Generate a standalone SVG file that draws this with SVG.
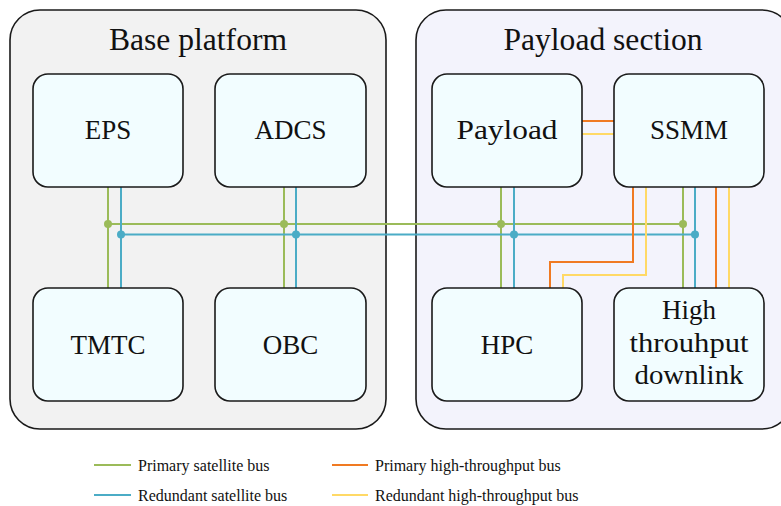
<svg xmlns="http://www.w3.org/2000/svg" width="781" height="506" viewBox="0 0 781 506">
  <style>
    .container { stroke: #1a1a1a; stroke-width: 1.6; }
    .node rect { fill: #F2FDFF; stroke: #1a1a1a; stroke-width: 1.6; }
    .title { font-family: "Liberation Serif", "DejaVu Serif", serif; font-size: 31px; fill: #111; text-anchor: middle; }
    .label { font-family: "Liberation Serif", "DejaVu Serif", serif; font-size: 27px; fill: #111; text-anchor: middle; }
    .legend { font-family: "Liberation Serif", "DejaVu Serif", serif; font-size: 16px; fill: #111; }
    .bus { fill: none; stroke-width: 2; }
    .green { stroke: #9BBB59; }
    .blue { stroke: #4BACC6; }
    .orange { stroke: #F07A22; }
    .yellow { stroke: #FFD966; }
    .dot-green { fill: #9BBB59; }
    .dot-blue { fill: #4BACC6; }
  </style>

  <!-- Section containers -->
  <g id="base-platform">
    <rect class="container" x="10" y="10" width="376" height="419" rx="30" ry="30" fill="#F2F2F2"/>
    <text class="title" x="198" y="50" textLength="178" lengthAdjust="spacingAndGlyphs">Base platform</text>
  </g>
  <g id="payload-section">
    <rect class="container" x="416" y="10" width="376" height="419" rx="30" ry="30" fill="#F3F3FC"/>
    <text class="title" x="603" y="50" textLength="199" lengthAdjust="spacingAndGlyphs">Payload section</text>
  </g>

  <!-- Bus connectors -->
  <g id="connectors">
    <!-- Primary satellite bus -->
    <path class="bus green" d="M108 187V288 M284 187V288 M501 187V288 M683 187V288 M108 224H683"/>
    <!-- Redundant satellite bus -->
    <path class="bus blue" d="M121 187V288 M296 187V288 M514 187V288 M695 187V288 M121 234.5H695"/>
    <!-- Primary high-throughput bus -->
    <path class="bus orange" d="M582 121H614 M633 187V262H550V288 M716 187V288"/>
    <!-- Redundant high-throughput bus -->
    <path class="bus yellow" d="M582 134H614 M646 187V275H563V288 M729 187V288"/>
    <!-- Junctions -->
    <circle class="dot-green" cx="108" cy="224" r="4"/>
    <circle class="dot-green" cx="284" cy="224" r="4"/>
    <circle class="dot-green" cx="501" cy="224" r="4"/>
    <circle class="dot-green" cx="683" cy="224" r="4"/>
    <circle class="dot-blue" cx="121" cy="234.5" r="4"/>
    <circle class="dot-blue" cx="296" cy="234.5" r="4"/>
    <circle class="dot-blue" cx="514" cy="234.5" r="4"/>
    <circle class="dot-blue" cx="695" cy="234.5" r="4"/>
  </g>

  <!-- Subsystem nodes -->
  <g id="eps" class="node">
    <rect x="33" y="74" width="150" height="113" rx="15" ry="15"/>
    <text class="label" x="108" y="139">EPS</text>
  </g>
  <g id="adcs" class="node">
    <rect x="215" y="74" width="151" height="113" rx="15" ry="15"/>
    <text class="label" x="290.5" y="139">ADCS</text>
  </g>
  <g id="tmtc" class="node">
    <rect x="33" y="288" width="150" height="113" rx="15" ry="15"/>
    <text class="label" x="108" y="354">TMTC</text>
  </g>
  <g id="obc" class="node">
    <rect x="215" y="288" width="151" height="113" rx="15" ry="15"/>
    <text class="label" x="290.5" y="354">OBC</text>
  </g>
  <g id="payload" class="node">
    <rect x="432" y="74" width="150" height="113" rx="15" ry="15"/>
    <text class="label" x="507" y="139" textLength="101" lengthAdjust="spacingAndGlyphs">Payload</text>
  </g>
  <g id="ssmm" class="node">
    <rect x="614" y="74" width="150" height="113" rx="15" ry="15"/>
    <text class="label" x="689" y="139">SSMM</text>
  </g>
  <g id="hpc" class="node">
    <rect x="432" y="288" width="150" height="113" rx="15" ry="15"/>
    <text class="label" x="507" y="354">HPC</text>
  </g>
  <g id="downlink" class="node">
    <rect x="614" y="288" width="150" height="113" rx="15" ry="15"/>
    <text class="label" x="689" y="319">High</text>
    <text class="label" x="689" y="352" textLength="119" lengthAdjust="spacingAndGlyphs">throuhput</text>
    <text class="label" x="689" y="384" textLength="109" lengthAdjust="spacingAndGlyphs">downlink</text>
  </g>

  <!-- Legend -->
  <g id="legend">
    <line class="bus green" x1="94" y1="465" x2="131" y2="465"/>
    <text class="legend" x="138" y="471">Primary satellite bus</text>
    <line class="bus blue" x1="94" y1="495" x2="131" y2="495"/>
    <text class="legend" x="138" y="501">Redundant satellite bus</text>
    <line class="bus orange" x1="332" y1="465" x2="368" y2="465"/>
    <text class="legend" x="375" y="471">Primary high-throughput bus</text>
    <line class="bus yellow" x1="332" y1="495" x2="368" y2="495"/>
    <text class="legend" x="375" y="501">Redundant high-throughput bus</text>
  </g>
</svg>
